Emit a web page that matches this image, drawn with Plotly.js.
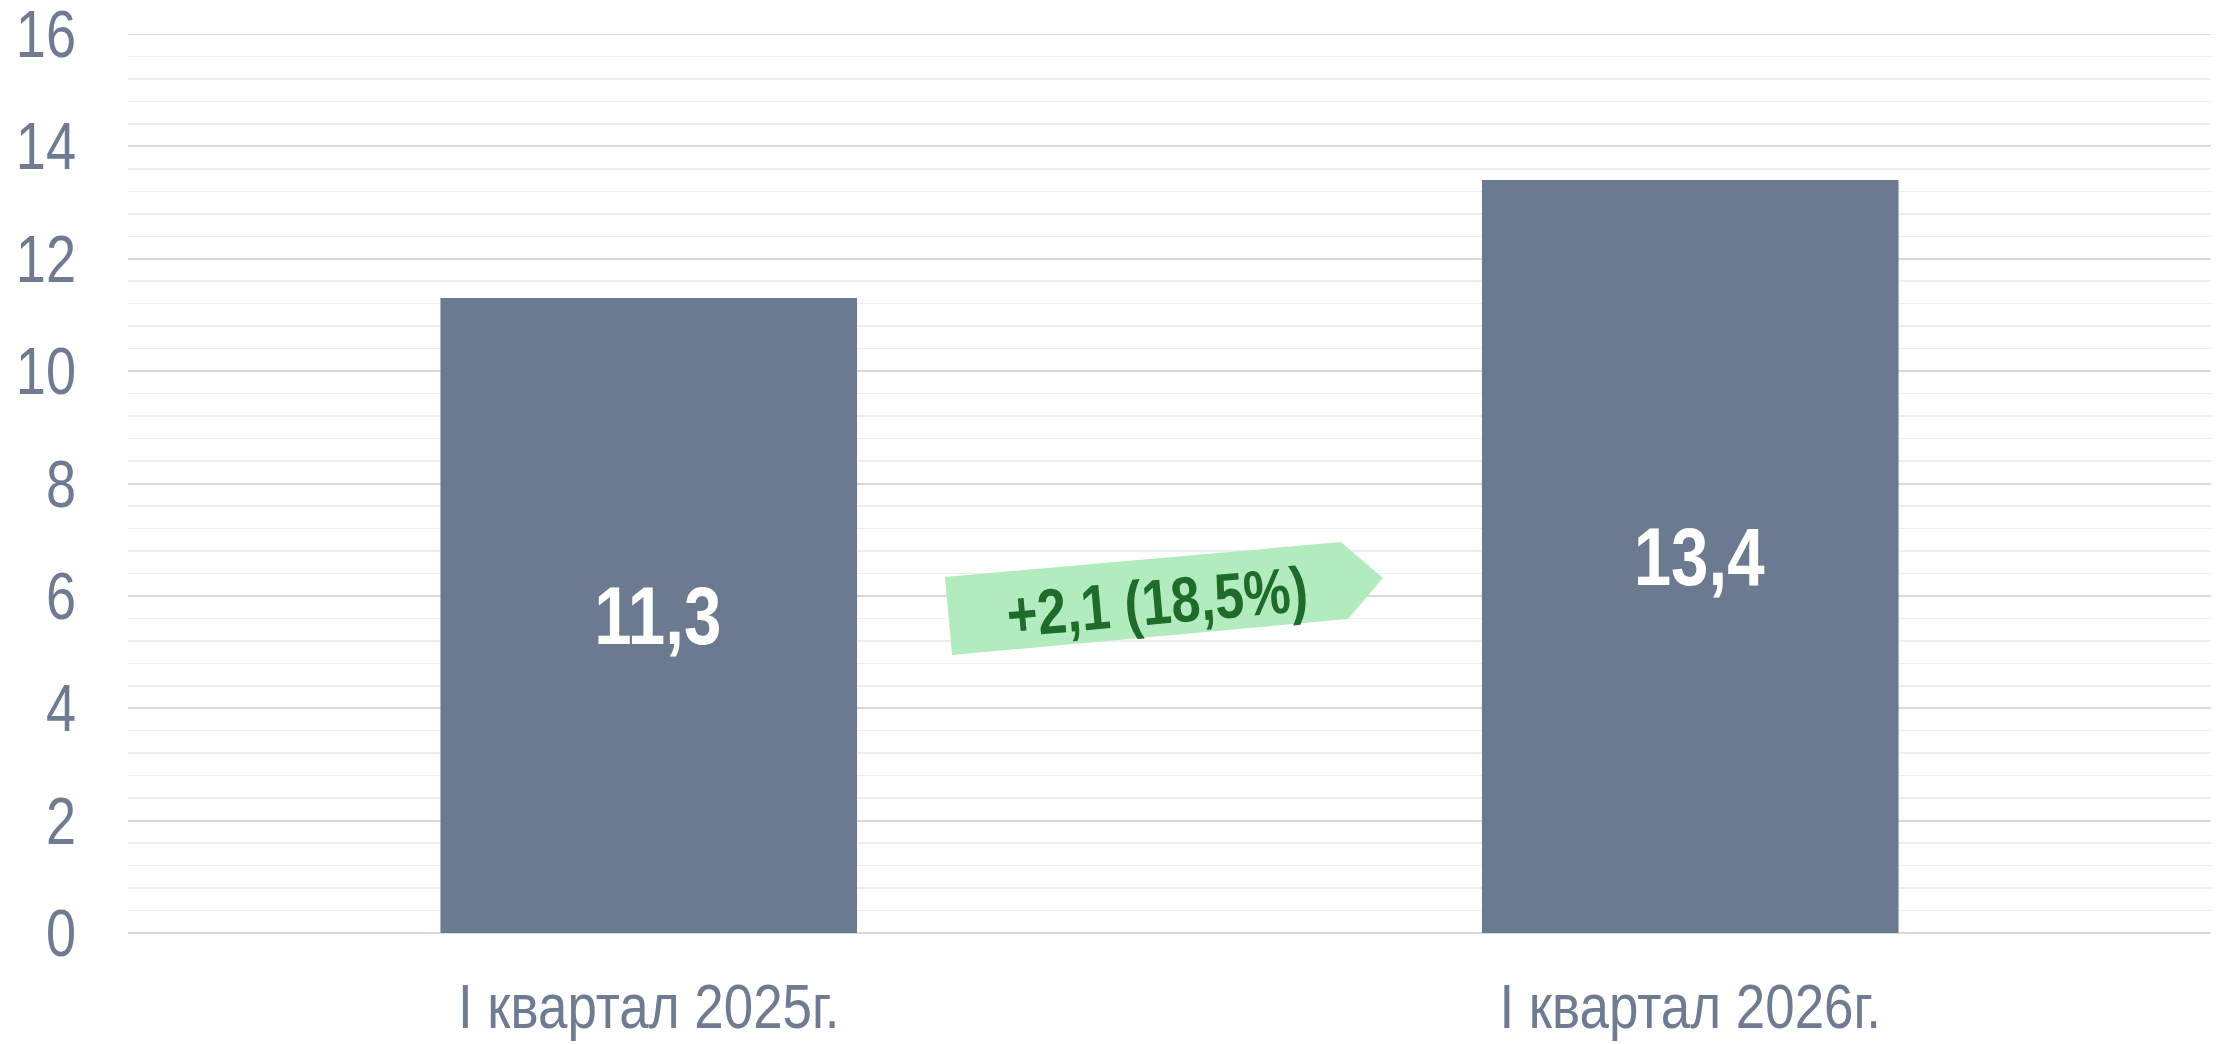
<!DOCTYPE html>
<html>
<head>
<meta charset="utf-8">
<script src="https://cdn.plot.ly/plotly-3.0.1.min.js"></script>
<style>
  html, body { margin: 0; padding: 0; background: #ffffff; }
  #chart { width: 2218px; height: 1044px; }
</style>
</head>
<body>
<div id="chart"></div>
<script>
// ---- Data ----
const categories = ["I квартал 2025г.", "I квартал 2026г."];
const values = [11.3, 13.4];
const valueLabels = ["11,3", "13,4"];
const changeLabel = "+2,1 (18,5%)";
const yTickValues = [0, 2, 4, 6, 8, 10, 12, 14, 16];
const yMax = 16;

// ---- Styles ----
const FONT = '"Liberation Sans", Arial, sans-serif';
const NARROW = 0.82;    // horizontal condensing to mimic a narrow typeface
const NARROW_X = 0.84;  // category labels
const BAR_COLOR = '#6C7A8F';
const TEXT_COLOR = '#6E7B91';
const GRID_MAJOR = '#D9D9D9';

const trace = {
  type: 'bar',
  x: categories,
  y: values,
  text: valueLabels,
  textposition: 'inside',
  insidetextanchor: 'middle',
  textangle: 0,
  textfont: { family: FONT, size: 82, color: '#ffffff', weight: 'bold' },
  marker: { color: BAR_COLOR, line: { width: 0 } },
  hoverinfo: 'skip',
  cliponaxis: false
};

const layout = {
  width: 2218,
  height: 1044,
  margin: { l: 128, r: 7, t: 34, b: 111, pad: 0 },
  paper_bgcolor: '#ffffff',
  plot_bgcolor: '#ffffff',
  showlegend: false,
  bargap: 0.6,
  font: { family: FONT, color: TEXT_COLOR },
  xaxis: {
    type: 'category',
    showgrid: false,
    showline: false,
    zeroline: false,
    ticks: '',
    ticklabelstandoff: 31,
    tickfont: { family: FONT, size: 63, color: TEXT_COLOR }
  },
  yaxis: {
    range: [0, yMax],
    tickvals: yTickValues,
    ticktext: yTickValues.map(String),
    ticklabeloverflow: 'allow',
    showgrid: true,
    gridcolor: GRID_MAJOR,
    gridwidth: 2,
    zeroline: true,
    zerolinecolor: GRID_MAJOR,
    zerolinewidth: 2,
    showline: false,
    ticks: '',
    ticklabelstandoff: 51,
    tickfont: { family: FONT, size: 66, color: TEXT_COLOR },
    minor: {
      dtick: 0.4,
      tick0: 0,
      showgrid: true,
      gridcolor: '#EDEDED',
      gridwidth: 1.5,
      ticks: ''
    }
  },
  shapes: [
    {
      type: 'line',
      xref: 'paper',
      yref: 'y',
      x0: 0, x1: 1,
      y0: yMax, y1: yMax,
      line: { color: GRID_MAJOR, width: 2 },
      layer: 'below'
    },
    {
      type: 'path',
      xref: 'paper',
      yref: 'y',
      path: 'M 0.3922 6.336 L 0.5823 6.958 L 0.6025 6.318 L 0.5857 5.588 L 0.3956 4.947 Z',
      fillcolor: '#B2EBBE',
      line: { width: 0 },
      layer: 'above'
    }
  ],
  annotations: [
    {
      xref: 'paper',
      yref: 'y',
      x: 0.494,
      y: 5.89,
      text: '<b>' + changeLabel + '</b>',
      showarrow: false,
      textangle: -5,
      font: { family: FONT, size: 64, color: '#1E6B2A' },
      xanchor: 'center',
      yanchor: 'middle'
    }
  ]
};

function condense(gd) {
  const groups = [
    { sel: '.ytick text', s: NARROW, dx: 0 },
    { sel: '.xtick text', s: NARROW_X, dx: 0 },
    { sel: 'text.bartext', s: NARROW, dx: 9 },
    { sel: 'text.annotation-text', s: NARROW, dx: 0 }
  ];
  groups.forEach(function (g) {
    gd.querySelectorAll(g.sel).forEach(function (t) {
      let bb;
      try { bb = t.getBBox(); } catch (e) { return; }
      const anchor = t.getAttribute('text-anchor') || (t.style && t.style.textAnchor) || 'middle';
      let cx = bb.x + bb.width / 2;
      if (anchor === 'end') cx = bb.x + bb.width;
      else if (anchor === 'start') cx = bb.x;
      const prev = t.getAttribute('transform') || '';
      t.setAttribute('transform', prev + ' translate(' + (cx + g.dx) + ',0) scale(' + g.s + ',1) translate(' + (-cx) + ',0)');
    });
  });
}

Plotly.newPlot('chart', [trace], layout, { displayModeBar: false, staticPlot: true })
  .then(condense);
</script>
</body>
</html>
